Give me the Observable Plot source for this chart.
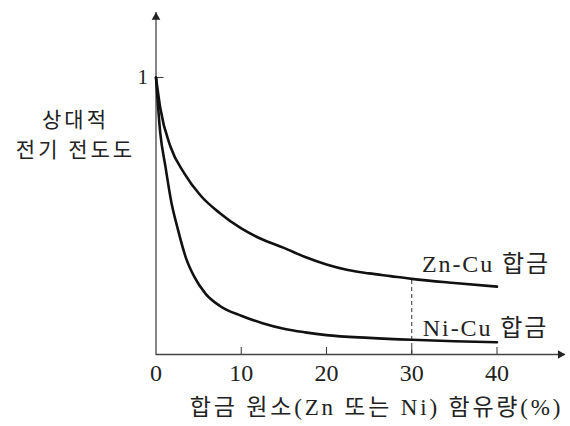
<!DOCTYPE html>
<html><head><meta charset="utf-8">
<script src="https://cdn.jsdelivr.net/npm/d3@7"></script>
<script src="https://cdn.jsdelivr.net/npm/@observablehq/plot@0.6"></script>
<style>html,body{margin:0;padding:0;background:#fff} #chart svg{display:block}</style>
</head><body><div id="chart"></div>
<script>
// ---- data ----
const xTicks = [0, 10, 20, 30, 40];
const yTicks = [1];
const znCuX = [0, 0.5, 1.7, 3.3, 5.2, 7.5, 10, 12.5, 15, 17.5, 20, 22.5, 25, 27.5, 30, 35, 40];
const znCuY = [1, 0.89, 0.75, 0.655, 0.575, 0.51, 0.455, 0.415, 0.385, 0.352, 0.325, 0.305, 0.293, 0.283, 0.273, 0.258, 0.245];
const niCuX = [0, 0.5, 1.1, 1.8, 2.5, 3.5, 4.5, 5.8, 7.5, 10, 12.5, 15, 17.5, 20, 25, 30, 35, 40];
const niCuY = [1, 0.8, 0.68, 0.55, 0.46, 0.35, 0.28, 0.22, 0.175, 0.14, 0.113, 0.093, 0.08, 0.07, 0.06, 0.053, 0.048, 0.044];
const seriesNames = ["Zn-Cu 합금", "Ni-Cu 합금"];
const labelX = [31.2, 31.3];
const labelY = [0.324, 0.096];
const markerX = 30;
const axisEndX = 48;
const axisEndY = 1.235;
const yTitle = "상대적\n전기 전도도";
const xTitle = "합금 원소(Zn 또는 Ni) 함유량(%)";

// ---- layout ----
const W = 570, H = 426, mL = 155.5, mR = 73.5, mT = 77, mB = 72;
const pxPerY = (H - mT - mB);
const pxPerX = (W - mL - mR) / 40;
const serif = "'Liberation Serif', 'Noto Sans CJK KR', serif";
const kor = "'Noto Sans CJK KR', 'Liberation Serif', sans-serif";
const axisColor = "#444";

const zn = znCuX.map((x, i) => ({x, y: znCuY[i]}));
const ni = niCuX.map((x, i) => ({x, y: niCuY[i]}));
const znAtMarker = znCuY[znCuX.indexOf(markerX)];

const chart = Plot.plot({
  width: W, height: H,
  marginLeft: mL, marginRight: mR, marginTop: mT, marginBottom: mB,
  x: {domain: [0, 40]},
  y: {domain: [0, 1]},
  style: {background: "#fff", color: "#222"},
  marks: [
    Plot.ruleY([0], {x1: 0, x2: axisEndX, stroke: axisColor, strokeWidth: 1.3}),
    Plot.ruleX([0], {y1: 0, y2: axisEndY, stroke: axisColor, strokeWidth: 1.3}),
    Plot.dot([{x: axisEndX, y: 0}], {x: "x", y: "y", symbol: "triangle", rotate: 90, r: 3.2, fill: "#222", stroke: null, dx: -4.8}),
    Plot.dot([{x: 0, y: axisEndY}], {x: "x", y: "y", symbol: "triangle", r: 3.2, fill: "#222", stroke: null, dy: 4.8}),
    Plot.ruleX(xTicks.filter(d => d > 0), {x: d => d, y1: 0, y2: 7 / pxPerY, stroke: axisColor, strokeWidth: 1.1}),
    Plot.ruleY(yTicks, {y: d => d, x1: 0, x2: 8 / pxPerX, stroke: axisColor, strokeWidth: 1.1}),
    Plot.axisX({ticks: xTicks, tickSize: 0, tickPadding: 9, fontSize: 24, fontFamily: serif, label: null, tickFormat: d => String(d)}),
    Plot.axisY({ticks: yTicks, tickSize: 0, tickPadding: 8, fontSize: 21, fontFamily: serif, label: null, tickFormat: d => String(d)}),
    Plot.ruleX([markerX], {y1: 0, y2: znAtMarker, stroke: "#333", strokeWidth: 1, strokeDasharray: "4,3"}),
    Plot.line(zn, {x: "x", y: "y", curve: "monotone-x", stroke: "#111", strokeWidth: 2.6}),
    Plot.line(ni, {x: "x", y: "y", curve: "monotone-x", stroke: "#111", strokeWidth: 2.6}),
    Plot.text(seriesNames, {x: (d, i) => labelX[i], y: (d, i) => labelY[i], text: d => d, textAnchor: "start", fontSize: 24, fontFamily: serif, fill: "#222"}),
    Plot.text([yTitle], {frameAnchor: "left", dx: -80.5, dy: -83.5, textAnchor: "middle", lineHeight: 1.45, fontSize: 21, fontFamily: kor, fill: "#222"}),
    Plot.text([xTitle], {frameAnchor: "bottom", dx: 50, dy: 60, textAnchor: "middle", fontSize: 23, fontFamily: serif, fill: "#222"})
  ]
});
d3.select(chart).selectAll("text").each(function() {
  const t = this.textContent;
  if (t === xTitle) this.setAttribute("letter-spacing", "2.8");
  else if (seriesNames.includes(t)) this.setAttribute("letter-spacing", "1.9");
  else if (t === yTitle.replace("\n", "")) this.setAttribute("letter-spacing", "3");
});
document.getElementById("chart").append(chart);
</script>
</body></html>
